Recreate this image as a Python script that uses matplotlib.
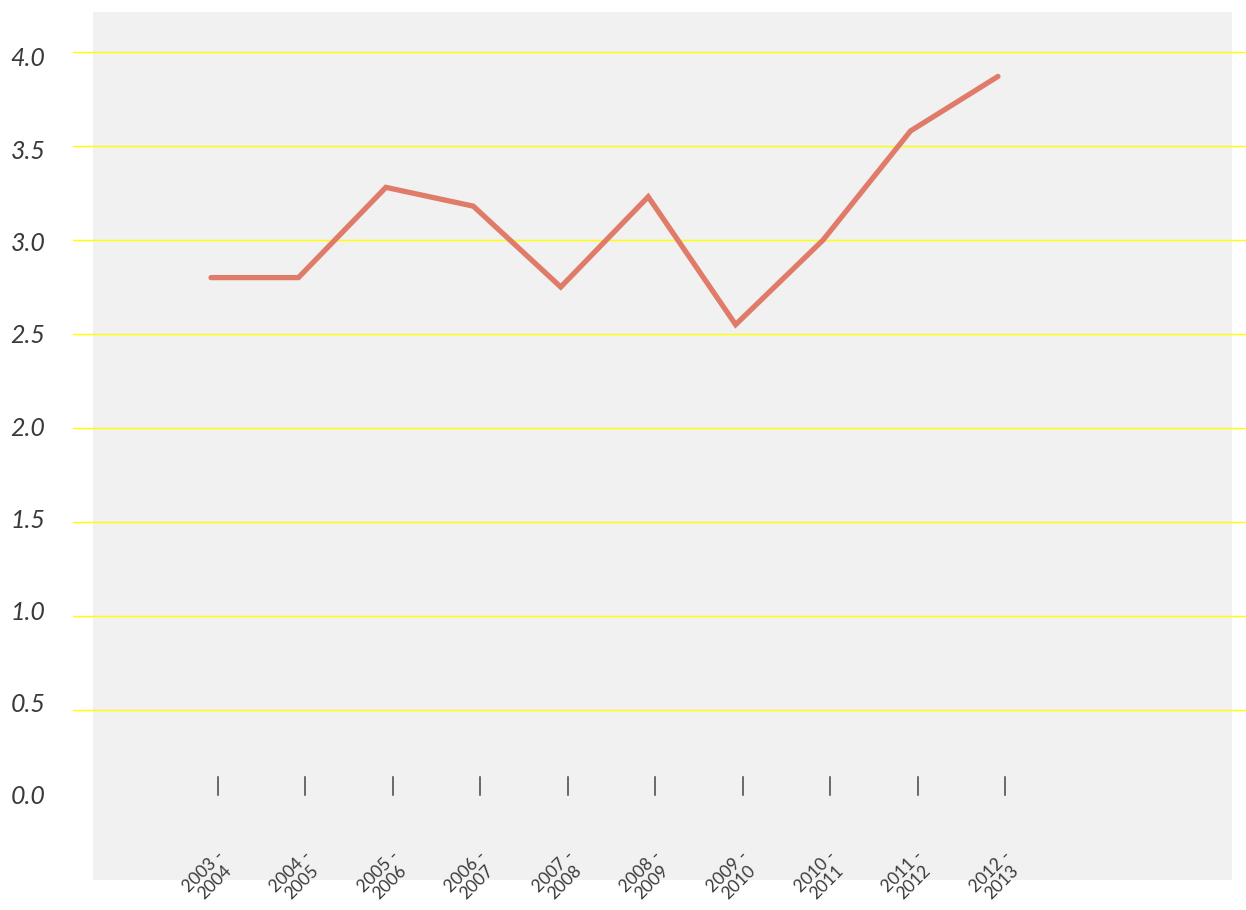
import matplotlib
matplotlib.use("Agg")
import matplotlib.pyplot as plt
import matplotlib.transforms as mtransforms
from matplotlib.patches import Rectangle

# Academic years and the plotted series
seasons = ["2003 -\n2004", "2004 -\n2005", "2005 -\n2006", "2006 -\n2007", "2007 -\n2008",
           "2008 -\n2009", "2009 -\n2010", "2010 -\n2011", "2011 -\n2012", "2012 -\n2013"]
values = [2.80, 2.80, 3.28, 3.18, 2.75, 3.23, 2.55, 3.00, 3.58, 3.87]
grid_levels = [0.5, 1.0, 1.5, 2.0, 2.5, 3.0, 3.5, 4.0]
y_tick_values = [0.0, 0.5, 1.0, 1.5, 2.0, 2.5, 3.0, 3.5, 4.0]
y_tick_labels = ["0.0", "0.5", "1.0", "1.5", "2.0", "2.5", "3.0", "3.5", "4.0"]

W, H, DPI = 1246, 910, 100
fig = plt.figure(figsize=(W / DPI, H / DPI), dpi=DPI)
fig.patch.set_facecolor("white")

left_px, right_px = 73, 1246
ax = fig.add_axes([left_px / W, 0, (right_px - left_px) / W, 1])
ax.set_facecolor("none")
for s in ax.spines.values():
    s.set_visible(False)

# x scale: category index i sits at 218 + 87.44*i pixels
step = 87.44
first_px = 218
ax.set_xlim((left_px - first_px) / step, (right_px - first_px) / step)
# y scale: 4.0 at 52 px, 188 px per unit
ax.set_ylim(4.0 - (H - 52) / 188.0, 4.0 + 52 / 188.0)
ax.set_xticks([])
ax.set_yticks([])

# Light panel behind the plot
panel = Rectangle(((93 - left_px) / (right_px - left_px), (H - 880) / H),
                  (1232 - 93) / (right_px - left_px), (880 - 12) / H,
                  transform=ax.transAxes, facecolor="#f0f1f0", edgecolor="none", zorder=0)
ax.add_patch(panel)

for g in grid_levels:
    ax.axhline(g, color="#ffff00", lw=1.0, zorder=1)

x = list(range(len(values)))
shift = mtransforms.ScaledTranslation(-7 / DPI, 0, fig.dpi_scale_trans)
ax.plot(x, values, color="#e07b6a", lw=3.8, solid_capstyle="round",
        solid_joinstyle="miter", transform=ax.transData + shift, zorder=3)

# Small category ticks
blend = mtransforms.blended_transform_factory(ax.transData, ax.transAxes)
for i in x:
    ax.plot([i, i], [(H - 777) / H, (H - 795) / H], color="#444444", lw=1.1,
            transform=blend, zorder=2)

# Category labels, rotated
lab_shift = mtransforms.ScaledTranslation(-9 / DPI, 0, fig.dpi_scale_trans)
for i, lab in zip(x, seasons):
    ax.text(i, (H - 877) / H, lab, transform=blend + lab_shift, rotation=45,
            ha="center", va="center", fontsize=12.5, color="#3a3a3a",
            family="Lato", fontweight="normal", linespacing=1.0, clip_on=False)

# Value labels on the left
ax_lab = fig.add_axes([left_px / W, 0, (right_px - left_px) / W, 1])
ax_lab.patch.set_visible(False)
for s in ax_lab.spines.values():
    s.set_visible(False)
ax_lab.set_xticks([])
ax_lab.set_ylim(4.0 - (H - 57) / 184.5, 4.0 + 57 / 184.5)
ax_lab.set_yticks(y_tick_values)
ax_lab.set_yticklabels(y_tick_labels, fontsize=18, color="#3a3a3a",
                       family="Lato", style="italic", fontweight="normal")
ax_lab.tick_params(axis="y", length=0, pad=20)

fig.savefig("out.png", dpi=DPI)
